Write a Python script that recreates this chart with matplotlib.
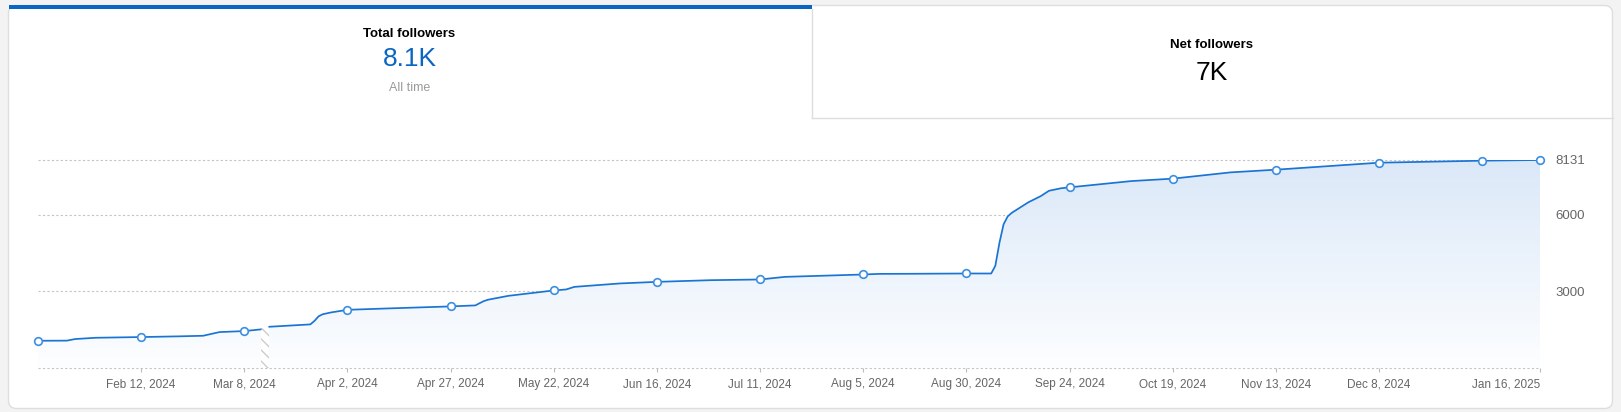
import numpy as np
import pandas as pd
import matplotlib
matplotlib.use('Agg')
import matplotlib.pyplot as plt
import matplotlib.dates as mdates
from matplotlib.patches import FancyBboxPatch, Rectangle, Polygon
from matplotlib.colors import LinearSegmentedColormap

# Seguidores totais ao longo do tempo
datas = ['2024-01-18', '2024-01-25', '2024-01-27', '2024-02-01', '2024-02-12',
         '2024-02-21', '2024-02-27', '2024-03-02', '2024-03-08', '2024-03-12',
         '2024-03-13',
         '2024-03-14', '2024-03-24', '2024-03-25', '2024-03-26', '2024-03-27',
         '2024-03-29', '2024-04-02', '2024-04-12', '2024-04-27', '2024-05-03',
         '2024-05-04', '2024-05-05', '2024-05-06', '2024-05-11', '2024-05-22',
         '2024-05-25', '2024-05-27', '2024-06-07', '2024-06-16', '2024-06-29',
         '2024-07-11', '2024-07-17', '2024-08-05', '2024-08-09', '2024-08-17',
         '2024-08-30', '2024-09-05', '2024-09-06', '2024-09-07', '2024-09-08',
         '2024-09-09', '2024-09-10', '2024-09-14', '2024-09-17', '2024-09-19',
         '2024-09-22', '2024-09-24', '2024-10-09', '2024-10-19', '2024-11-02',
         '2024-11-13', '2024-12-08', '2025-01-02', '2025-01-16']
seguidores = [1075, 1080, 1142, 1192, 1220,
              1247, 1270, 1414, 1453, 1519,
              np.nan,
              1621, 1714, 1850, 2030, 2110,
              2180, 2283, 2338, 2416, 2455,
              2540, 2620, 2675, 2829, 3039,
              3078, 3179, 3312, 3374, 3440,
              3467, 3569, 3662, 3686, 3690,
              3701, 3701, 4000, 4900, 5620,
              5930, 6070, 6480, 6720, 6930,
              7030, 7064, 7309, 7403, 7648,
              7753, 8026, 8104, 8131]

# Pontos marcados na linha
datas_marcadores = ['2024-01-18', '2024-02-12', '2024-03-08', '2024-04-02', '2024-04-27',
                    '2024-05-22', '2024-06-16', '2024-07-11', '2024-08-05', '2024-08-30',
                    '2024-09-24', '2024-10-19', '2024-11-13', '2024-12-08', '2025-01-02',
                    '2025-01-16']

# Eixo x
datas_ticks = ['2024-02-12', '2024-03-08', '2024-04-02', '2024-04-27', '2024-05-22',
               '2024-06-16', '2024-07-11', '2024-08-05', '2024-08-30', '2024-09-24',
               '2024-10-19', '2024-11-13', '2024-12-08', '2025-01-16']
rotulos_ticks = ['Feb 12, 2024', 'Mar 8, 2024', 'Apr 2, 2024', 'Apr 27, 2024',
                 'May 22, 2024', 'Jun 16, 2024', 'Jul 11, 2024', 'Aug 5, 2024',
                 'Aug 30, 2024', 'Sep 24, 2024', 'Oct 19, 2024', 'Nov 13, 2024',
                 'Dec 8, 2024', 'Jan 16, 2025']

# Eixo y
valores_y = [0, 3000, 6000, 8131]
rotulos_y = ['', '3000', '6000', '8131']

# Cartões do topo
titulo_total = 'Total followers'
valor_total = '8.1K'
sub_total = 'All time'
titulo_liquido = 'Net followers'
valor_liquido = '7K'

AZUL = '#0a66c2'
LINHA = '#1a74d4'
CINZA = '#666666'
BORDA = '#dedede'

plt.rcParams['font.family'] = ['Liberation Sans', 'DejaVu Sans']
plt.rcParams['hatch.linewidth'] = 1.0

W, H = 1621, 412
fig = plt.figure(figsize=(W / 100, H / 100), dpi=100)
fig.patch.set_facecolor('#f3f3f3')

# fundo / cartão em coordenadas de pixel
bg = fig.add_axes([0, 0, 1, 1])
bg.set_xlim(0, W)
bg.set_ylim(H, 0)
bg.axis('off')
bg.add_patch(FancyBboxPatch((8.5, 5.5), 1604, 403, boxstyle='round,pad=0,rounding_size=8',
                            fc='white', ec=BORDA, lw=1))
bg.add_patch(Rectangle((8.5, 4.5), 803, 4.5, color=AZUL, lw=0))
bg.plot([811.5, 811.5], [9, 117.5], color=BORDA, lw=1)
bg.plot([811.5, 1613], [117.5, 117.5], color=BORDA, lw=1)

bg.text(409.5, 34, titulo_total, ha='center', va='center', fontsize=9.5,
        fontweight='bold', color='black')
bg.text(409.5, 59, valor_total, ha='center', va='center', fontsize=19, color=AZUL)
bg.text(409.5, 88, sub_total, ha='center', va='center', fontsize=9, color='#9a9a9a')
bg.text(1211.5, 44.5, titulo_liquido, ha='center', va='center', fontsize=9.5,
        fontweight='bold', color='black')
bg.text(1211.5, 72.5, valor_liquido, ha='center', va='center', fontsize=19, color='black')

# gráfico
ax = fig.add_axes([38 / W, (H - 368.3) / H, (1540 - 38) / W, (368.3 - 160) / H])
ax.patch.set_alpha(0)

x = mdates.date2num(pd.to_datetime(datas))
y = np.array(seguidores, dtype=float)
ymax = valores_y[-1]

ax.set_xlim(x[0], x[-1])
ax.set_ylim(0, ymax)

for v in valores_y:
    ax.axhline(v, color='#c4c4c4', lw=0.8, ls=(0, (2, 2)), clip_on=False, zorder=0)

cmap = LinearSegmentedColormap.from_list('grad', ['#fdfeff', '#dbe8f8'])
grad = np.linspace(0, 1, 256).reshape(-1, 1)

# divide a série onde faltam dados
faltando = np.isnan(y)
cortes = np.where(faltando)[0]
inicio = 0
segmentos = []
for c in list(cortes) + [len(y)]:
    if c > inicio:
        segmentos.append((x[inicio:c], y[inicio:c]))
    inicio = c + 1

for sx, sy in segmentos:
    verts = np.column_stack([np.r_[sx[0], sx, sx[-1]], np.r_[0, sy, 0]])
    poly = Polygon(verts, closed=True, fc='none', ec='none')
    ax.add_patch(poly)
    im = ax.imshow(grad, extent=[sx[0], sx[-1], 0, ymax], origin='lower', aspect='auto',
                   cmap=cmap, zorder=1)
    im.set_clip_path(poly)
    ax.plot(sx, sy, color=LINHA, lw=1.25, zorder=3, solid_capstyle='round')

# região sem dados (hachurada)
for c in cortes:
    topo = (y[c - 1] + y[c + 1]) / 2
    ax.fill_between([x[c - 1], x[c + 1]], 0, topo, facecolor='none', edgecolor='#cccccc',
                    hatch='\\\\\\', linewidth=0, zorder=2)

mx = mdates.date2num(pd.to_datetime(datas_marcadores))
my = [y[list(x).index(m)] for m in mx]
ax.plot(mx, my, 'o', mfc='white', mec='#3b8ee0', ms=5.5, mew=1.2, clip_on=False, zorder=5)

ax.set_xticks(mdates.date2num(pd.to_datetime(datas_ticks)), rotulos_ticks)
ax.tick_params(axis='x', length=3, width=0.8, color='#bbbbbb', pad=4, labelsize=8.5,
               labelcolor=CINZA)
ax.get_xticklabels()[-1].set_horizontalalignment('right')

ax.set_yticks(valores_y, rotulos_y)
ax.yaxis.tick_right()
ax.tick_params(axis='y', length=0, pad=32.4, labelsize=9.5, labelcolor=CINZA)
for lbl in ax.get_yticklabels():
    lbl.set_horizontalalignment('right')

for s in ax.spines.values():
    s.set_visible(False)

fig.savefig('out.png', dpi=100, facecolor=fig.get_facecolor())
plt.close(fig)
